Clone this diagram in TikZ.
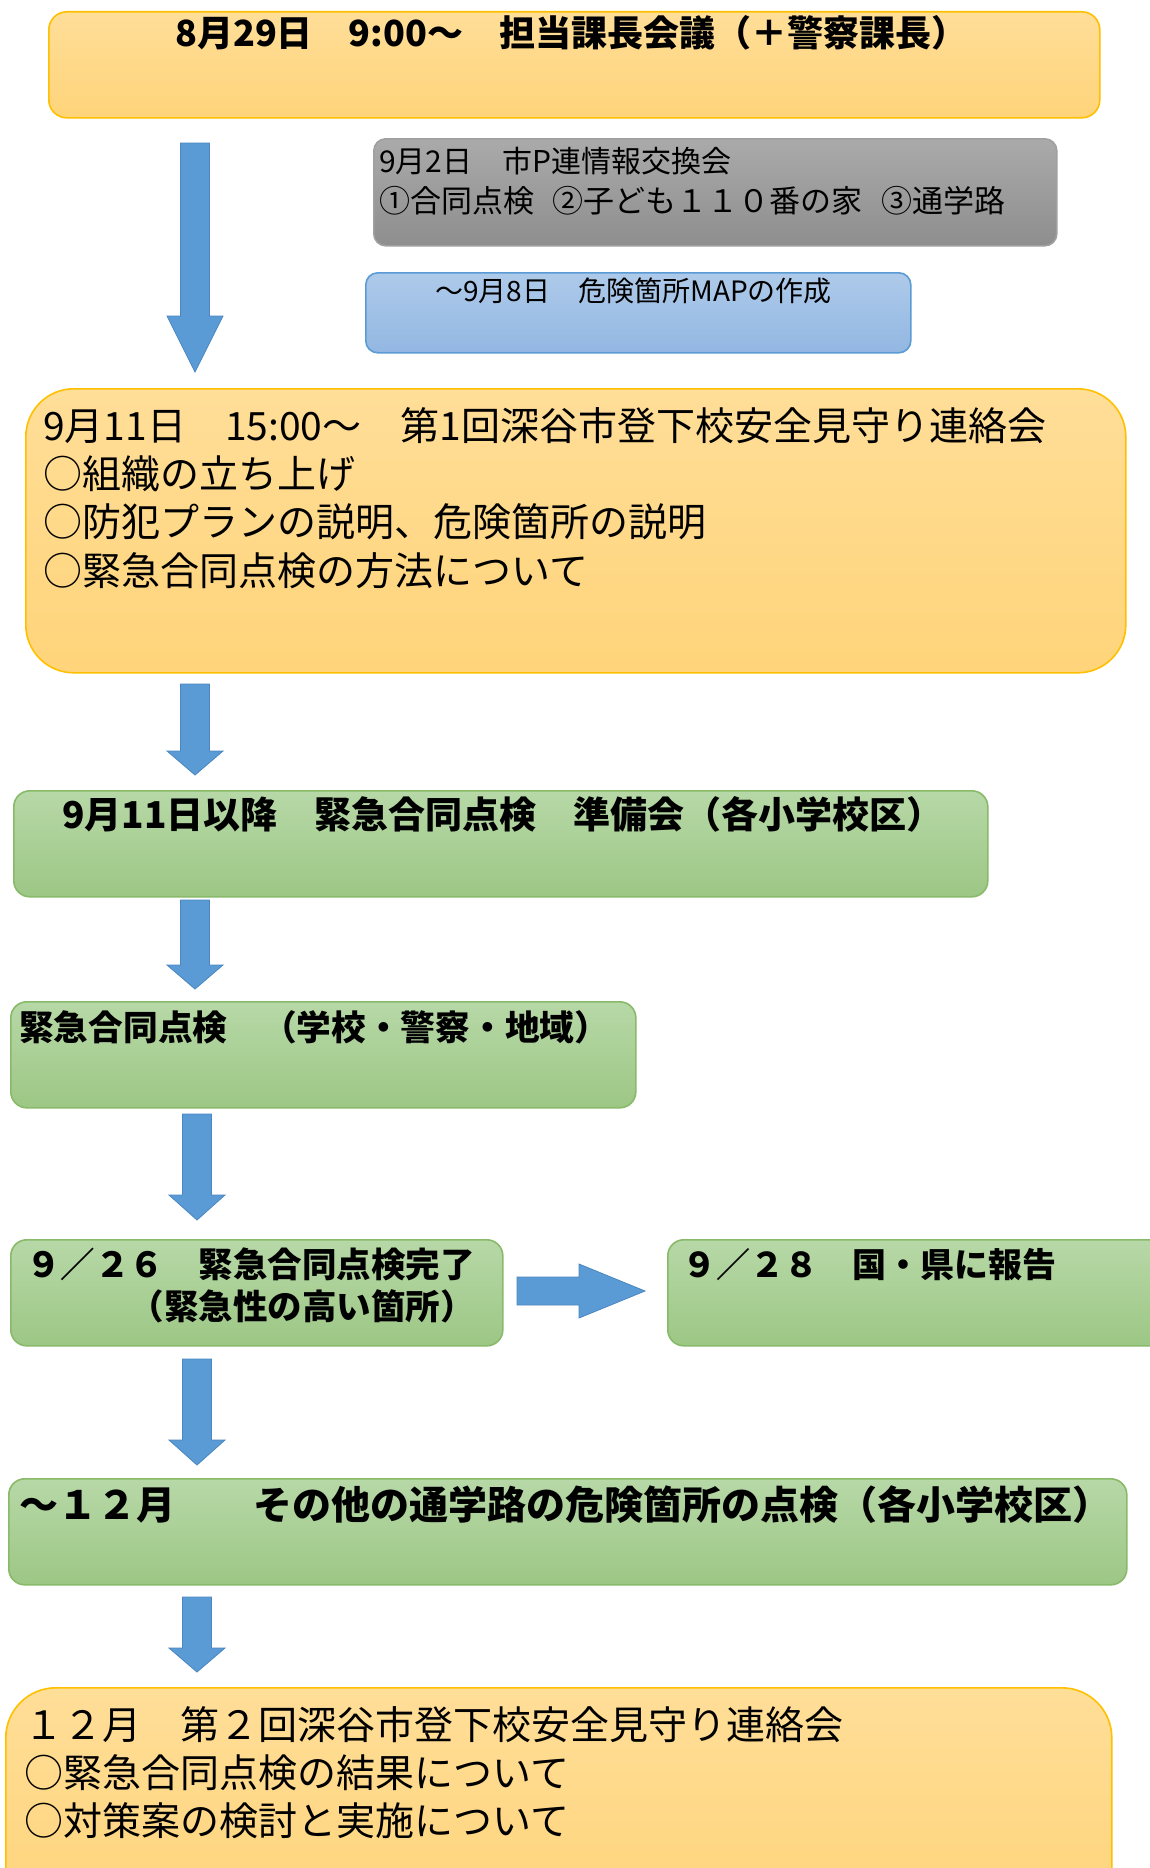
\documentclass[tikz,border=0pt]{standalone}
\usepackage{fontspec}
\newfontfamily\jp{Noto Sans CJK JP}
\definecolor{otop}{RGB}{255,222,152}
\definecolor{obot}{RGB}{255,212,122}
\definecolor{oline}{RGB}{255,192,0}
\definecolor{gtop}{RGB}{183,216,167}
\definecolor{gbot}{RGB}{157,199,133}
\definecolor{gline}{RGB}{136,186,106}
\definecolor{ytop}{RGB}{170,170,170}
\definecolor{ybot}{RGB}{142,142,142}
\definecolor{yline}{RGB}{160,160,160}
\definecolor{btop}{RGB}{174,202,234}
\definecolor{bbot}{RGB}{146,183,226}
\definecolor{bline}{RGB}{91,155,213}
\definecolor{afill}{RGB}{91,155,213}
\definecolor{aline}{RGB}{74,134,192}
\tikzset{
  box/.style={draw, line width=1.6pt, inner sep=0pt, anchor=north west},
  obox/.style={box, draw=oline, top color=otop, bottom color=obot},
  gbox/.style={box, draw=gline, top color=gtop, bottom color=gbot, rounded corners=16pt},
  ybox/.style={box, draw=yline, top color=ytop, bottom color=ybot, rounded corners=12pt},
  bbox/.style={box, draw=bline, top color=btop, bottom color=bbot, rounded corners=12pt},
  lbl/.style={anchor=base west, inner sep=0pt, text=black},
  barrow/.style={fill=afill, draw=aline, line width=0.8pt, line join=miter}
}
\newcommand\fs[1]{\jp\fontsize{#1}{#1}\selectfont}
\newcommand\downarr[4]{%
  \draw[barrow] (#1-14.5,#2) -- (#1+14.5,#2) -- (#1+14.5,#3) -- (#1+28,#3) -- (#1,#4) -- (#1-28,#3) -- (#1-14.5,#3) -- cycle;}
\begin{document}
\begin{tikzpicture}[x=1pt,y=-1pt]
\useasboundingbox (0,0) rectangle (1150,1868);
\clip (0,0) rectangle (1150,1868);
\fill[white] (0,0) rectangle (1150,1868);

% boxes
\node[obox, rounded corners=18pt, minimum width=1051pt, minimum height=106pt] (b1) at (48,11) {};
\node[ybox, minimum width=683pt, minimum height=107pt] (gray) at (373,138) {};
\node[bbox, minimum width=545pt, minimum height=80pt] (blue) at (365,272) {};
\node[obox, rounded corners=48pt, minimum width=1100pt, minimum height=284pt] (b2) at (25,388) {};
\node[gbox, minimum width=974pt, minimum height=106pt] (g1) at (13,790) {};
\node[gbox, minimum width=625pt, minimum height=106pt] (g2) at (10,1001) {};
\node[gbox, minimum width=492pt, minimum height=106pt] (g3) at (10,1239) {};
\node[gbox, minimum width=520pt, minimum height=106pt] (g4) at (667,1239) {};
\node[gbox, minimum width=1118pt, minimum height=106pt] (g5) at (8,1478) {};
\node[obox, rounded corners=50pt, minimum width=1106pt, minimum height=240pt] (b3) at (5,1687) {};

% arrows
\downarr{195}{143}{316}{372}
\downarr{195}{684}{751}{775}
\downarr{195}{900}{965}{989}
\downarr{197}{1114}{1195}{1220}
\downarr{197}{1359}{1440}{1465}
\downarr{197}{1597}{1648}{1672}
\draw[barrow] (517,1277) -- (579,1277) -- (579,1264) -- (645,1291) -- (579,1318) -- (579,1305) -- (517,1305) -- cycle;

% texts
\node[lbl, font=\fs{36}\bfseries] (t1) at (175,47) {8月29日　9:00～　担当課長会議（＋警察課長）};
\node[lbl, font=\fs{30}] (ty1) at (379,172) {9月2日　市P連情報交換会};
\node[lbl, font=\fs{31}] (ty2) at (379,212) {①合同点検\hspace{0.6em}②子ども１１０番の家\hspace{0.6em}③通学路};
\node[lbl, font=\fs{28}] (tb) at (435,301) {～9月8日　危険箇所MAPの作成};
\node[lbl, font=\fs{39}] (t21) at (43,440) {9月11日　15:00～　第1回深谷市登下校安全見守り連絡会};
\node[lbl, font=\fs{39}] (t22) at (43,488) {○組織の立ち上げ};
\node[lbl, font=\fs{39}] (t23) at (43,536) {○防犯プランの説明、危険箇所の説明};
\node[lbl, font=\fs{39}] (t24) at (43,585) {○緊急合同点検の方法について};
\node[lbl, font=\fs{37}\bfseries] (tg1) at (62,828) {9月11日以降　緊急合同点検　準備会（各小学校区）};
\node[lbl, font=\fs{34.7}\bfseries] (tg2) at (19,1040) {緊急合同点検　（学校・警察・地域）};
\node[lbl, font=\fs{34.5}\bfseries] (tg31) at (26,1277) {９／２６　緊急合同点検完了};
\node[lbl, font=\fs{34.5}\bfseries] (tg32) at (26,1319) {　　　（緊急性の高い箇所）};
\node[lbl, font=\fs{34}\bfseries] (tg4) at (682,1277) {９／２８　国・県に報告};
\node[lbl, font=\fs{39}\bfseries] (tg5) at (19,1519) {～１２月　　その他の通学路の危険箇所の点検（各小学校区）};
\node[lbl, font=\fs{39}] (t31) at (24,1739) {１２月　第２回深谷市登下校安全見守り連絡会};
\node[lbl, font=\fs{39}] (t32) at (24,1787) {○緊急合同点検の結果について};
\node[lbl, font=\fs{39}] (t33) at (24,1835) {○対策案の検討と実施について};
\end{tikzpicture}
\end{document}
